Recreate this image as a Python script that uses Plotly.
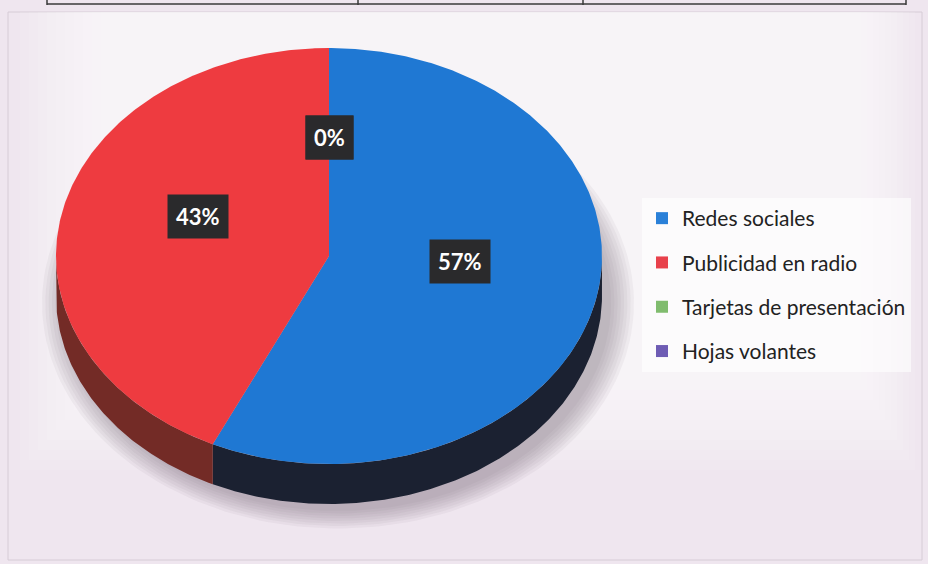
import numpy as np
import plotly.graph_objects as go

# Survey answers: which channel brought the customer in
categories = ["Redes sociales", "Publicidad en radio", "Tarjetas de presentación", "Hojas volantes"]
values = [57, 43, 0, 0]

top_colors = ["#1f78d3", "#ee3b40", "#76b55f", "#6a58ad"]
side_colors = ["#1b2131", "#732b26", "#3d5a30", "#352c57"]
legend_colors = ["#2a80d8", "#e8414b", "#80bc6e", "#6e5cb4"]

W, H = 928, 564
# tilted-disc geometry (pixel space)
CX, CY, RX, RY, DEPTH = 329, 256, 273, 208, 40
LABEL_R, LABEL_LIFT = 0.49, 17


def ellipse_pt(theta, dy=0.0):
    t = np.radians(theta)
    return CX + RX * np.sin(t), CY - RY * np.cos(t) + dy


def arc(a, b, dy=0.0, n=None):
    n = n or max(2, int(abs(b - a) * 2) + 2)
    th = np.linspace(a, b, n)
    x, y = ellipse_pt(th, dy)
    return list(x), list(y)


total = sum(values)
starts, ends = [], []
acc = 0.0
for v in values:
    starts.append(acc / total * 360)
    acc += v
    ends.append(acc / total * 360)

fig = go.Figure()

# soft drop shadow under the disc
for k in range(8):
    s = 1.0 + 0.012 * k
    th = np.linspace(0, 360, 200)
    t = np.radians(th)
    fig.add_trace(go.Scatter(
        x=CX + 9 + RX * s * np.sin(t), y=CY + DEPTH + 7 - RY * s * np.cos(t),
        fill="toself", mode="lines", line=dict(width=0),
        fillcolor="rgba(120,100,125,0.065)", hoverinfo="skip", showlegend=False))

# visible front wall of each slice
for i, v in enumerate(values):
    if v <= 0:
        continue
    s, e = max(starts[i], 90), min(ends[i], 270)
    if s >= e:
        continue
    xt, yt = arc(s, e)
    xb, yb = arc(e, s, DEPTH)
    fig.add_trace(go.Scatter(
        x=xt + xb + [xt[0]], y=yt + yb + [yt[0]],
        fill="toself", mode="lines", line=dict(width=0),
        fillcolor=side_colors[i], hoverinfo="skip", showlegend=False))

# top faces
for i, v in enumerate(values):
    if v <= 0:
        continue
    xa, ya = arc(starts[i], ends[i])
    fig.add_trace(go.Scatter(
        x=[CX] + xa + [CX], y=[CY] + ya + [CY],
        fill="toself", mode="lines", line=dict(width=0),
        fillcolor=top_colors[i], name=categories[i],
        hoverinfo="name", showlegend=False))

# legend entries
for i, c in enumerate(categories):
    fig.add_trace(go.Scatter(
        x=[None], y=[None], mode="markers", name=c, legendgroup=c,
        marker=dict(symbol="square", size=11, color=legend_colors[i])))

# percentage labels
annotations = []
for i, v in enumerate(values):
    mid = (starts[i] + ends[i]) / 2
    lx = CX + LABEL_R * RX * np.sin(np.radians(mid))
    ly = CY - LABEL_R * RY * np.cos(np.radians(mid)) - LABEL_LIFT
    annotations.append(dict(
        x=lx, y=ly, xref="x", yref="y", showarrow=False,
        text=f"<b>{round(v / total * 100)}%</b>",
        font=dict(family="Lato", size=22, color="white"),
        bgcolor="#2a2a2c", borderpad=8))

shapes = [
    # strip of a table above the chart
    dict(type="line", xref="x", yref="y", x0=47, x1=906, y0=4, y1=4,
         line=dict(color="#3a3a3a", width=1.5)),
    # chart frame
    dict(type="rect", xref="x", yref="y", x0=8, x1=922, y0=12, y1=560,
         line=dict(color="#d6ccd6", width=1), fillcolor="rgba(0,0,0,0)", layer="below"),
]
# paper brightening towards the upper middle, built from nested translucent layers
for k in range(10):
    shapes.append(dict(
        type="rect", xref="x", yref="y", layer="below",
        x0=20 + 9 * k, x1=915 - 6 * k, y0=12, y1=470 - 10 * k,
        line=dict(width=0), fillcolor="rgba(255,255,255,0.11)"))
for xv in [47, 358, 583, 906]:
    shapes.append(dict(type="line", xref="x", yref="y", x0=xv, x1=xv, y0=0, y1=5,
                       line=dict(color="#3a3a3a", width=1.5)))

fig.update_layout(
    width=W, height=H,
    margin=dict(l=0, r=0, t=0, b=0),
    paper_bgcolor="#efe6ef", plot_bgcolor="rgba(0,0,0,0)",
    xaxis=dict(range=[0, W], visible=False, fixedrange=True),
    yaxis=dict(range=[H, 0], visible=False, fixedrange=True),
    showlegend=True,
    legend=dict(
        x=642 / W, y=1 - 198 / H, xanchor="left", yanchor="top",
        font=dict(family="Lato", size=21, color="#222222"),
        bgcolor="rgba(255,255,255,0.6)", tracegroupgap=14, itemsizing="constant",
        traceorder="grouped"),
    annotations=annotations,
    shapes=shapes,
)

fig.write_html("out.html")
